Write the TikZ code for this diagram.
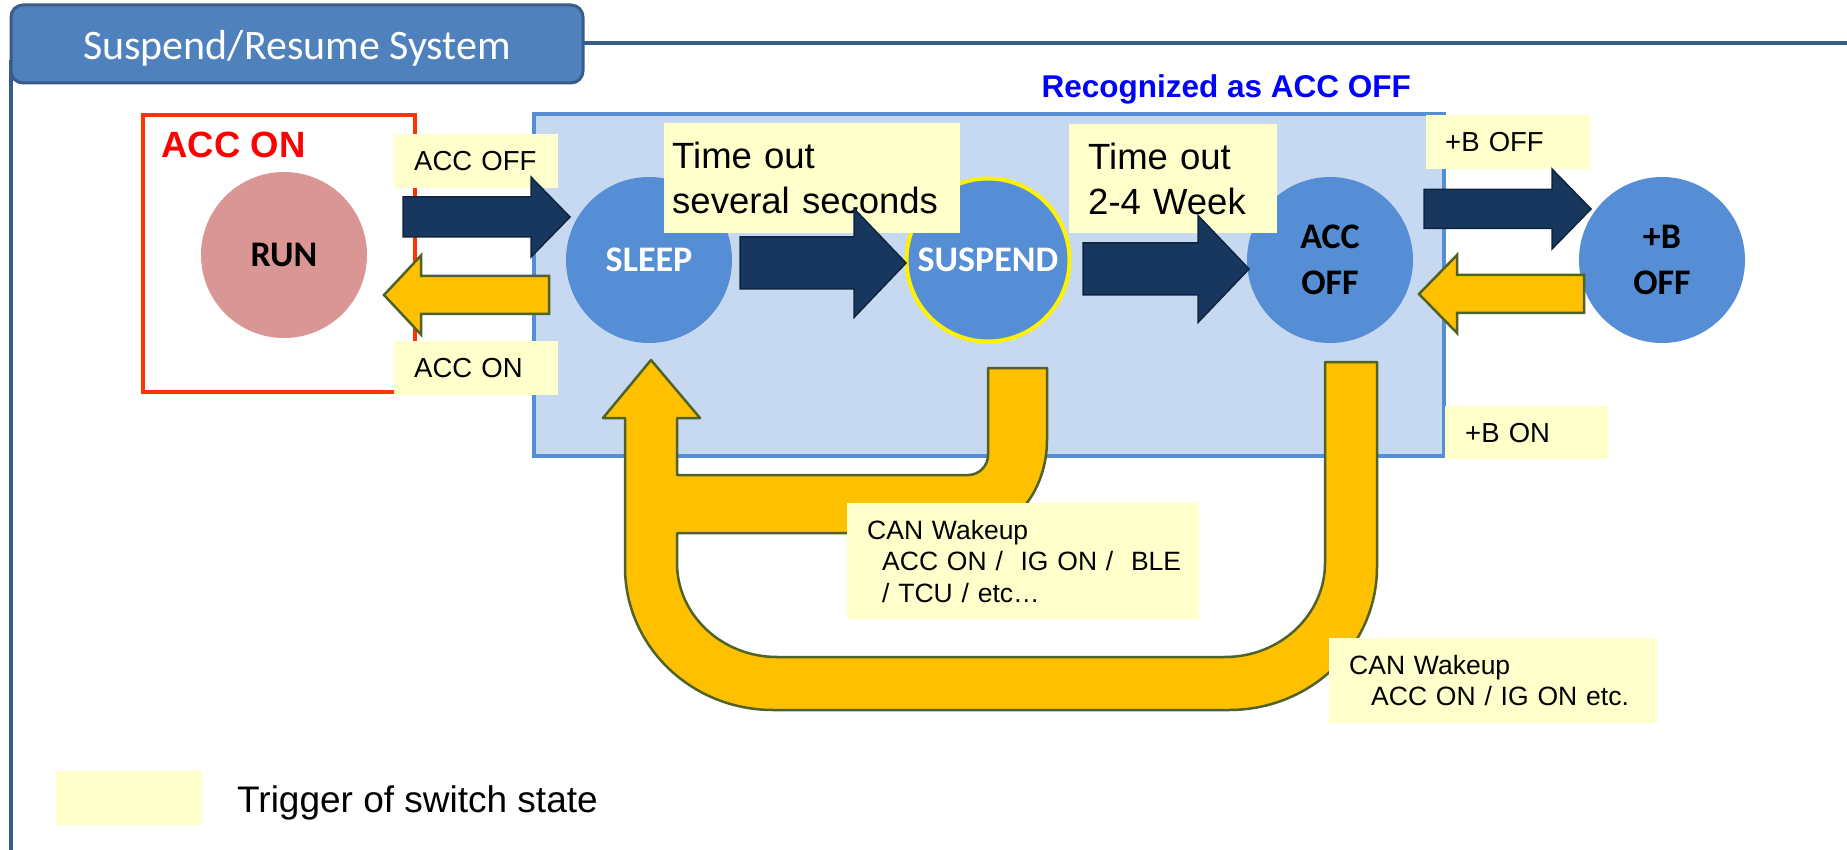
\documentclass[tikz,border=0pt]{standalone}
\usepackage{fontspec}
\setmainfont{Liberation Sans}
\newfontfamily\calfont{Carlito}
\usetikzlibrary{calc}

\definecolor{tabfill}{HTML}{4F81BD}
\definecolor{tabline}{HTML}{385D8A}
\definecolor{onbox}{HTML}{FF3300}
\definecolor{zonefill}{HTML}{C6D9F1}
\definecolor{zoneline}{HTML}{558ED5}
\definecolor{statefill}{HTML}{558ED5}
\definecolor{runfill}{HTML}{D99694}
\definecolor{trigfill}{HTML}{FFFFCC}
\definecolor{navy}{HTML}{17375E}
\definecolor{navyline}{HTML}{0F243E}
\definecolor{amber}{HTML}{FFC000}
\definecolor{olive}{HTML}{4F6228}
\definecolor{recog}{HTML}{0000FF}

% block arrow pointing right: #1 tail x, #2 tip x, #3 axis y, #4 half shaft, #5 half head, #6 head length, #7 style
\newcommand\blockright[7]{\path[#7] (#1,#3-#4) -- (#2-#6,#3-#4) -- (#2-#6,#3-#5) -- (#2,#3)
  -- (#2-#6,#3+#5) -- (#2-#6,#3+#4) -- (#1,#3+#4) -- cycle;}
% block arrow pointing left: #1 tip x, #2 tail x, rest as above
\newcommand\blockleft[7]{\path[#7] (#2,#3-#4) -- (#1+#6,#3-#4) -- (#1+#6,#3-#5) -- (#1,#3)
  -- (#1+#6,#3+#5) -- (#1+#6,#3+#4) -- (#2,#3+#4) -- cycle;}

\begin{document}
\begin{tikzpicture}[x=1pt,y=-1pt,
  state/.style={circle, minimum size=166, inner sep=0pt, fill=statefill, align=center,
    font=\calfont\bfseries\fontsize{36}{46}\selectfont},
  trig/.style={fill=trigfill, anchor=north west, inner ysep=0pt, align=left,
    font=\fontsize{27.5}{33}\selectfont},
  trigbig/.style={trig, font=\fontsize{36.5}{45}\selectfont},
  trigsmall/.style={trig, font=\fontsize{26.5}{31.5}\selectfont},
  darkarrow/.style={fill=navy, draw=navyline, line width=1.5, line join=miter},
  amberarrow/.style={fill=amber, draw=olive, line width=2.5, line join=miter}]

\useasboundingbox (0,0) rectangle (1847,850);
\fill[white] (0,0) rectangle (1847,850);

% outer frame with title tab
\draw[tabline, line width=4] (11,60) -- (11,852);
\draw[tabline, line width=4] (560,43) -- (1849,43);
\draw[rounded corners=12, fill=tabfill, draw=tabline, line width=3] (11,5) rectangle (583,83);
\node[anchor=base, text=white, font=\calfont\fontsize{42}{50}\selectfont] (title) at (297,60) {Suspend/Resume System};

% ACC ON area
\draw[onbox, line width=4] (143,115) rectangle (415,392);
\node[anchor=base west, text=red, font=\bfseries\fontsize{36.5}{44}\selectfont] (accon) at (158,158) {ACC ON};

% area recognized as ACC OFF
\draw[fill=zonefill, draw=zoneline, line width=4] (534,114) rectangle (1444,456);
\node[anchor=base west, text=recog, font=\bfseries\fontsize{31.5}{38}\selectfont] (recog) at (1038,98) {Recognized as ACC OFF};

% states
\node[state, fill=runfill] (run) at (284,255) {RUN};
\node[state, text=white] (sleep) at (649,260) {SLEEP};
\node[state, text=white, draw=yellow, line width=4, minimum size=163] (suspend) at (988,260) {SUSPEND};
\node[state] (accoff) at (1330,260) {ACC\\OFF};
\node[state] (boff) at (1662,260) {+B\\OFF};

% wakeup return paths
\path[amberarrow, line join=round]
  (651,360) -- (700,418) -- (677,418) -- (677,475) -- (968,475)
  .. controls (979,475) and (988,466) .. (988,455) -- (988,368) -- (1047,368) -- (1047,440)
  .. controls (1047,491) and (1013,533) .. (972,533) -- (677,533) -- (677,563)
  .. controls (677,615) and (722,657) .. (777,657) -- (1225,657)
  .. controls (1280,657) and (1325,615) .. (1325,563) -- (1325,362) -- (1377,362) -- (1377,567)
  .. controls (1377,646) and (1311,710) .. (1229,710) -- (773,710)
  .. controls (691,710) and (625,646) .. (625,567) -- (625,418) -- (603,418) -- cycle;

% triggers
\node[trig, inner xsep=20, text width=124, minimum height=54] (tAccOff) at (394,134) {ACC OFF};
\node[trig, inner xsep=20, text width=124, minimum height=54] (tAccOn) at (394,341) {ACC ON};
\node[trigbig, inner xsep=8, text width=280, minimum height=110] (tSec) at (664,123) {Time out\\several seconds};
\node[trigbig, inner xsep=19, text width=170, minimum height=109] (tWeek) at (1069,124) {Time out\\2-4 Week};
\node[trig, inner xsep=19, text width=126, minimum height=54] (tBOff) at (1426,115) {+B OFF};
\node[trig, inner xsep=20, text width=123, minimum height=53] (tBOn) at (1445,406) {+B ON};
\node[trigsmall, inner xsep=20, text width=312, minimum height=116] (tCan1) at (847,503)
  {\mbox{CAN Wakeup}\\\mbox{\hspace*{15pt}ACC ON /~~IG ON /~~BLE}\\\mbox{\hspace*{15pt}/ TCU / etc…}};
\node[trigsmall, inner xsep=20, text width=288, minimum height=85] (tCan2) at (1329,638)
  {\mbox{CAN Wakeup}\\\mbox{\hspace*{22pt}ACC ON / IG ON etc.}};

% transitions
\blockright{403}{570}{217}{20}{40}{39}{darkarrow}
\blockright{740}{906}{263}{26}{54.5}{52}{darkarrow}
\blockright{1083}{1249}{269}{26}{53.5}{51}{darkarrow}
\blockright{1424}{1591}{209}{19.5}{40}{39}{darkarrow}
\blockleft{384}{549}{295}{19}{39.5}{37}{amberarrow}
\blockleft{1419}{1584}{294}{19}{39}{38}{amberarrow}

% legend
\node[fill=trigfill, anchor=north west, minimum width=146, minimum height=54, inner sep=0pt] (legbox) at (56,771) {};
\node[anchor=base west, font=\fontsize{37}{44}\selectfont, inner sep=0pt] (legtext) at (237,812) {Trigger of switch state};

\end{tikzpicture}
\end{document}
